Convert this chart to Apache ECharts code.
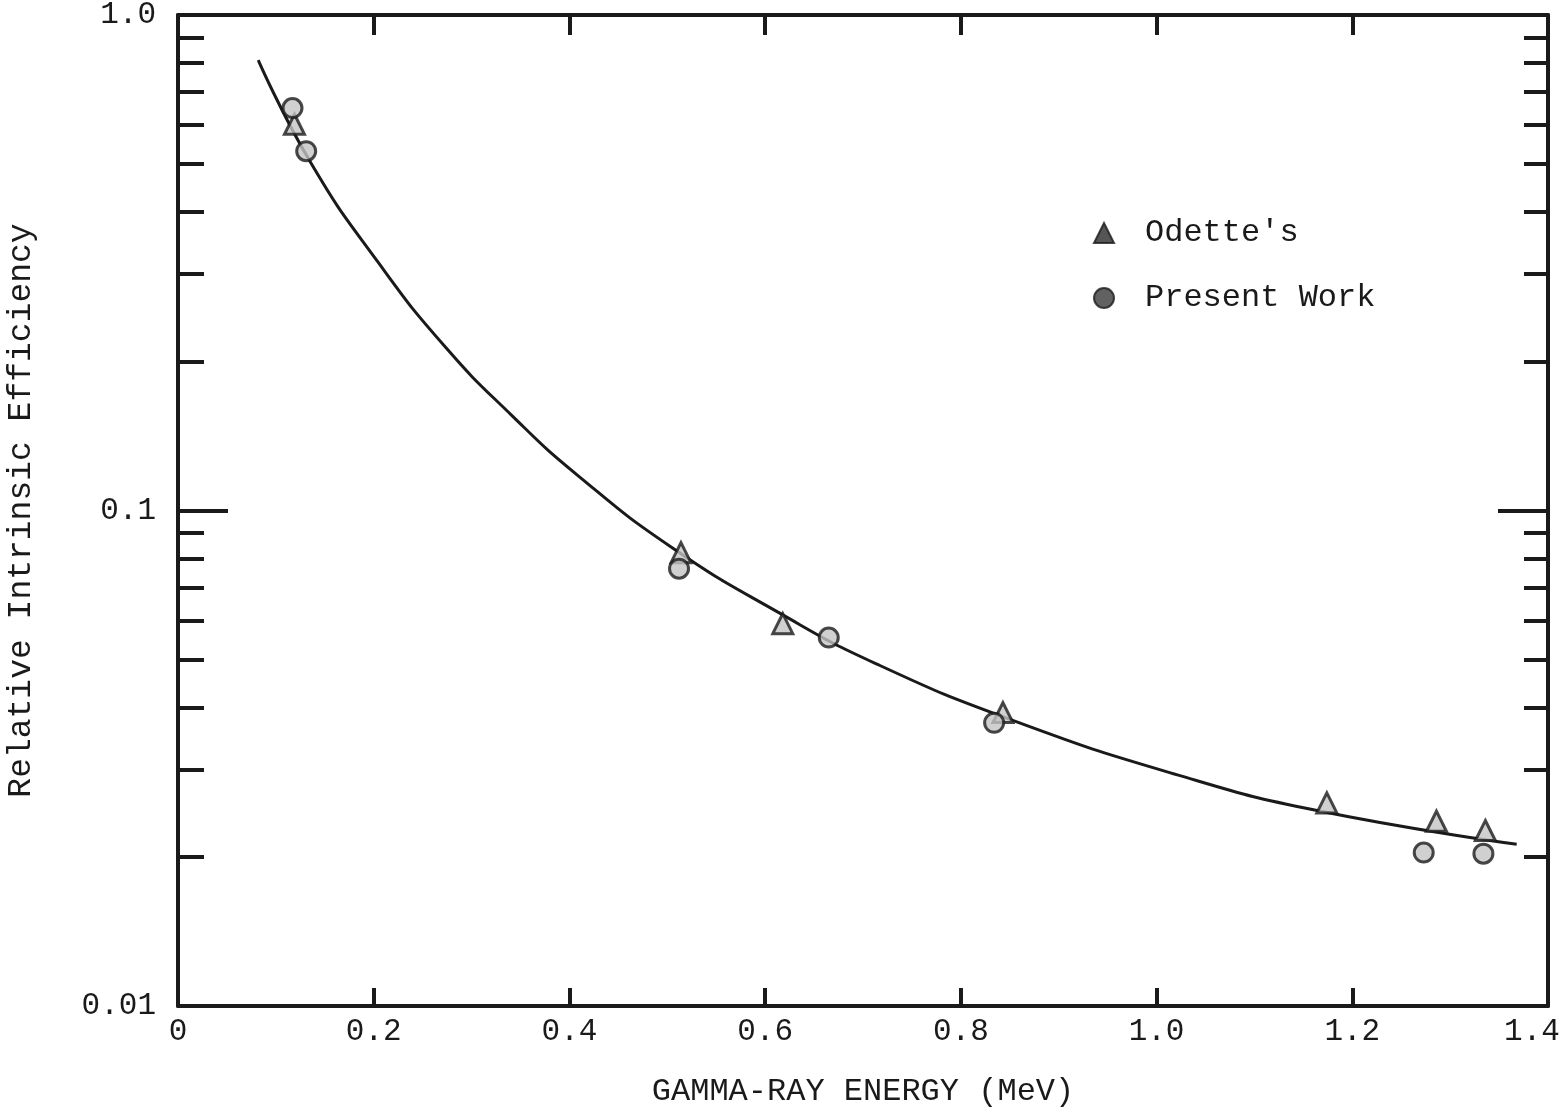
<!DOCTYPE html>
<html>
<head>
<meta charset="utf-8">
<script src="https://cdn.jsdelivr.net/npm/echarts@6/dist/echarts.min.js"></script>
<style>
html,body{margin:0;padding:0;background:#fff;}
#chart{width:1564px;height:1118px;}
</style>
</head>
<body>
<div id="chart"></div>
<script>
// ---- data ----
const odetteEnergy = [0.119, 0.514, 0.618, 0.843, 1.174, 1.286, 1.336];
const odetteEff    = [0.602, 0.0822, 0.0591, 0.0391, 0.0257, 0.0236, 0.0226];

const presentEnergy = [0.117, 0.131, 0.512, 0.665, 0.834, 1.273, 1.334];
const presentEff    = [0.649, 0.531, 0.0763, 0.0554, 0.0373, 0.0204, 0.0203];

const curveEnergy = [0.082, 0.136, 0.205, 0.273, 0.341, 0.409, 0.505, 0.614, 0.713, 0.853, 1.023, 1.164, 1.368];
const curveEff    = [0.811, 0.502, 0.316, 0.214, 0.1556, 0.1175, 0.0841, 0.0622, 0.0491, 0.0377, 0.0292, 0.0248, 0.0212];

const xTickValues = [0.2, 0.4, 0.6, 0.8, 1.0, 1.2];
const yLabelValues = [0.01, 0.1, 1];
const yMinorTickValues = [0.02, 0.03, 0.04, 0.05, 0.06, 0.07, 0.08, 0.09, 0.2, 0.3, 0.4, 0.5, 0.6, 0.7, 0.8, 0.9];
const yMajorTickValues = [0.1];

const seriesNames = ["Odette's", "Present Work"];
const xName = 'GAMMA-RAY ENERGY (MeV)';
const yName = 'Relative Intrinsic Efficiency';

// ---- chart ----
const FONT = '"Liberation Mono", "DejaVu Sans Mono", monospace';
const INK = '#1a1a1a';
const zip = (a, b) => a.map((v, i) => [v, b[i]]);

function yFmt(v) {
  if (Math.abs(v - 1) < 1e-9) return '1.0';
  if (Math.abs(v - 0.1) < 1e-9) return '0.1';
  if (Math.abs(v - 0.01) < 1e-9) return '0.01';
  return String(v);
}
function xFmt(v) {
  if (Math.abs(v) < 1e-9) return '0';
  if (Math.abs(v - 1.4) < 1e-9) return '{last|1.4}';
  return v.toFixed(1);
}

const baseY = {
  type: 'log', logBase: 10, min: 0.01, max: 1,
  splitLine: { show: false }, minorTick: { show: false }
};

const chart = echarts.init(document.getElementById('chart'), null, { renderer: 'canvas' });
chart.setOption({
  backgroundColor: '#ffffff',
  animation: false,
  grid: { left: 178, right: 16, top: 15, bottom: 112, containLabel: false, outerBoundsMode: 'none' },
  legend: {
    orient: 'vertical',
    left: 1088, top: 212,
    itemWidth: 20, itemHeight: 20, itemGap: 33,
    data: [
      { name: seriesNames[0], icon: 'triangle', itemStyle: { color: '#2a2a2a', borderColor: INK, borderWidth: 2 } },
      { name: seriesNames[1], icon: 'circle', itemStyle: { color: '#3a3a3a', borderColor: INK, borderWidth: 2 } }
    ],
    textStyle: { fontFamily: FONT, fontSize: 32, color: INK, padding: [0, 0, 0, 26] }
  },
  xAxis: [
    {
      type: 'value', position: 'bottom', min: 0, max: 1.4, interval: 0.2,
      name: xName, nameLocation: 'middle', nameGap: 70,
      nameTextStyle: { fontFamily: FONT, fontSize: 32, color: INK },
      axisLine: { show: true, lineStyle: { color: INK, width: 4 } },
      axisTick: { show: true, inside: true, length: 18, lineStyle: { color: INK, width: 4 }, customValues: xTickValues },
      axisLabel: {
        fontFamily: FONT, fontSize: 31, color: INK, margin: 10, formatter: xFmt,
        rich: { last: { fontFamily: FONT, fontSize: 31, color: INK, padding: [0, 32, 0, 0] } }
      },
      splitLine: { show: false }
    },
    {
      type: 'value', position: 'top', min: 0, max: 1.4, interval: 0.2,
      axisLine: { show: true, lineStyle: { color: INK, width: 4 } },
      axisTick: { show: true, inside: true, length: 20, lineStyle: { color: INK, width: 4 }, customValues: xTickValues },
      axisLabel: { show: false },
      splitLine: { show: false }
    }
  ],
  yAxis: [
    Object.assign({}, baseY, {
      position: 'left',
      name: yName, nameLocation: 'middle', nameGap: 140, nameRotate: 90,
      nameTextStyle: { fontFamily: FONT, fontSize: 33, color: INK },
      axisLine: { show: true, lineStyle: { color: INK, width: 4 } },
      axisTick: { show: true, inside: true, length: 26, lineStyle: { color: INK, width: 4 }, customValues: yMinorTickValues },
      axisLabel: { fontFamily: FONT, fontSize: 31, color: INK, margin: 22, formatter: yFmt, customValues: yLabelValues }
    }),
    Object.assign({}, baseY, {
      position: 'left',
      axisLine: { show: false },
      axisTick: { show: true, inside: true, length: 50, lineStyle: { color: INK, width: 4 }, customValues: yMajorTickValues },
      axisLabel: { show: false }
    }),
    Object.assign({}, baseY, {
      position: 'right',
      axisLine: { show: true, lineStyle: { color: INK, width: 4 } },
      axisTick: { show: true, inside: true, length: 24, lineStyle: { color: INK, width: 4 }, customValues: yMinorTickValues },
      axisLabel: { show: false }
    }),
    Object.assign({}, baseY, {
      position: 'right',
      axisLine: { show: false },
      axisTick: { show: true, inside: true, length: 50, lineStyle: { color: INK, width: 4 }, customValues: yMajorTickValues },
      axisLabel: { show: false }
    })
  ],
  series: [
    {
      name: 'fit', type: 'line', xAxisIndex: 0, yAxisIndex: 0,
      data: zip(curveEnergy, curveEff),
      smooth: 0.5, showSymbol: false, symbol: 'none',
      lineStyle: { color: INK, width: 3 },
      z: 2, silent: true
    },
    {
      name: seriesNames[0], type: 'scatter', xAxisIndex: 0, yAxisIndex: 0,
      data: zip(odetteEnergy, odetteEff),
      symbol: 'triangle', symbolSize: 20,
      itemStyle: { color: '#c4c4c4', borderColor: INK, borderWidth: 3 },
      z: 3
    },
    {
      name: seriesNames[1], type: 'scatter', xAxisIndex: 0, yAxisIndex: 0,
      data: zip(presentEnergy, presentEff),
      symbol: 'circle', symbolSize: 19,
      itemStyle: { color: '#c4c4c4', borderColor: INK, borderWidth: 3 },
      z: 4
    }
  ]
});
</script>
</body>
</html>
